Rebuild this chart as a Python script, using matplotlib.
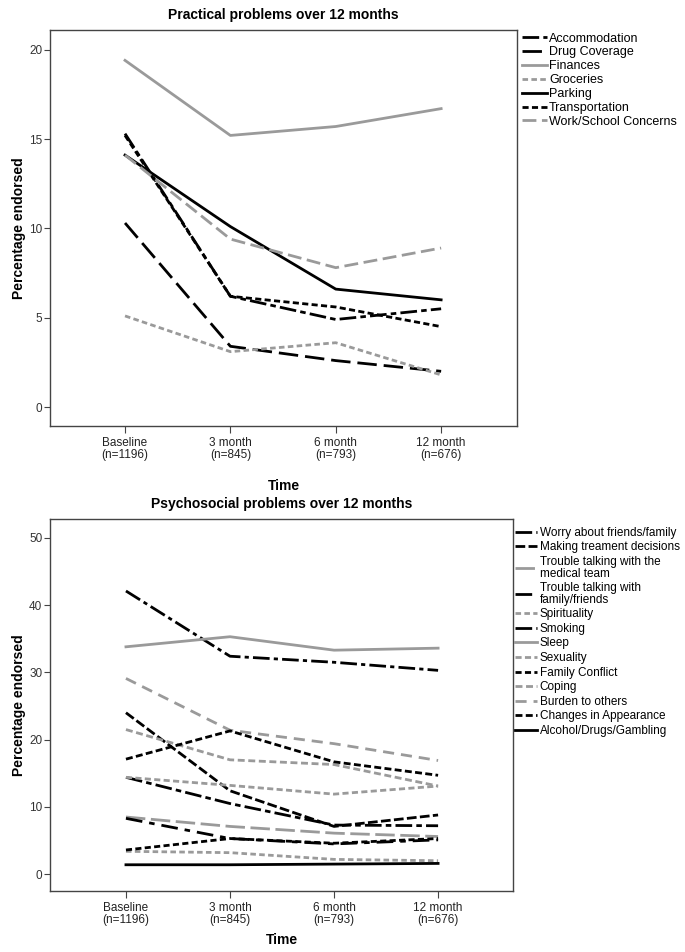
import numpy as np
import matplotlib
matplotlib.use('Agg')
import matplotlib.pyplot as plt

plt.rcParams['font.family'] = ['Liberation Sans', 'DejaVu Sans']

# time points
times = ['Baseline\n(n=1196)', '3 month\n(n=845)', '6 month\n(n=793)', '12 month\n(n=676)']

# Practical problems (percentage endorsed)
accommodation = [15.3, 6.2, 4.9, 5.5]
drug_coverage = [10.3, 3.4, 2.6, 2.0]
finances = [19.4, 15.2, 15.7, 16.7]
groceries = [5.1, 3.1, 3.6, 1.8]
parking = [14.1, 10.1, 6.6, 6.0]
transportation = [15.2, 6.2, 5.6, 4.5]
work_school = [14.1, 9.4, 7.8, 8.9]

# Psychosocial problems (percentage endorsed)
worry = [14.4, 10.5, 7.3, 7.2]
decisions = [24.0, 12.4, 7.1, 8.8]
talk_medical = [8.5, 7.1, 6.1, 5.6]
talk_family = [8.3, 5.3, 4.5, 5.1]
spirituality = [3.4, 3.2, 2.2, 2.0]
smoking = [42.1, 32.4, 31.5, 30.3]
sleep = [33.8, 35.3, 33.3, 33.6]
sexuality = [14.4, 13.2, 11.9, 13.1]
family_conflict = [3.6, 5.3, 4.6, 5.3]
coping = [21.5, 17.0, 16.3, 13.1]
burden = [29.1, 21.4, 19.4, 16.9]
appearance = [17.1, 21.3, 16.7, 14.7]
alcohol = [1.4, 1.4, 1.5, 1.6]

BLK = 'black'
GRY = '#9a9a9a'
LW = 2.0

practical = [
    ('Accommodation', accommodation, BLK, (0, (6, 1.5, 2, 1.5))),
    ('Drug Coverage', drug_coverage, BLK, (0, (7, 2.5))),
    ('Finances', finances, GRY, '-'),
    ('Groceries', groceries, GRY, (0, (2, 1.2))),
    ('Parking', parking, BLK, '-'),
    ('Transportation', transportation, BLK, (0, (2.2, 1.2))),
    ('Work/School Concerns', work_school, GRY, (0, (5, 2))),
]

psychosocial = [
    ('Worry about friends/family', worry, BLK, (0, (6, 1.5, 2, 1.5))),
    ('Making treament decisions', decisions, BLK, (0, (3.5, 1.2))),
    ('Trouble talking with the\nmedical team', talk_medical, GRY, (0, (7, 2))),
    ('Trouble talking with\nfamily/friends', talk_family, BLK, (0, (6, 2.5, 2, 2.5))),
    ('Spirituality', spirituality, GRY, (0, (2, 1.2))),
    ('Smoking', smoking, BLK, (0, (6, 1.5, 1.5, 1.5))),
    ('Sleep', sleep, GRY, '-'),
    ('Sexuality', sexuality, GRY, (0, (2.2, 1.2))),
    ('Family Conflict', family_conflict, BLK, (0, (2.2, 1.2))),
    ('Coping', coping, GRY, (0, (2.5, 1.3))),
    ('Burden to others', burden, GRY, (0, (4, 2.5))),
    ('Changes in Appearance', appearance, BLK, (0, (2.5, 1.2))),
    ('Alcohol/Drugs/Gambling', alcohol, BLK, '-'),
]

W, H = 685, 952
fig = plt.figure(figsize=(W / 100, H / 100), dpi=100)
ax1 = fig.add_axes([50 / W, 1 - 426 / H, 467 / W, 396 / H])
ax2 = fig.add_axes([50 / W, 1 - 891 / H, 463 / W, 372 / H])

x = np.arange(len(times))


def style_axes(ax, title, yticks, ylim, xlim, xlabelpad):
    ax.set_xlim(*xlim)
    ax.set_ylim(*ylim)
    ax.set_xticks(x)
    ax.set_xticklabels(times, fontsize=8.5, color='#222222', linespacing=1.0)
    ax.set_yticks(yticks)
    ax.tick_params(axis='y', labelsize=8.5, labelcolor='#333333', length=4,
                   color='#444444', pad=1.5)
    ax.tick_params(axis='x', length=5, color='#444444', pad=3)
    for s in ax.spines.values():
        s.set_color('#444444')
        s.set_linewidth(1.0)
    ax.set_title(title, fontsize=10, fontweight='bold', pad=8)
    ax.set_ylabel('Percentage endorsed', fontsize=10, fontweight='bold')
    ax.yaxis.set_label_coords(-24 / (ax.get_position().width * W), 0.5)
    ax.set_xlabel('Time', fontsize=10, fontweight='bold', labelpad=xlabelpad)


for name, vals, col, ls in practical:
    ax1.plot(x, vals, color=col, linestyle=ls, linewidth=LW, label=name)
style_axes(ax1, 'Practical problems over 12 months', [0, 5, 10, 15, 20],
           (-1.06, 21.1), (-0.712, 3.72), 13)
leg1 = ax1.legend(loc='upper left', bbox_to_anchor=(519.5 / W, 1 - 30 / H),
                  bbox_transform=fig.transFigure, frameon=False, fontsize=9,
                  handlelength=2.0, handletextpad=0.15, labelspacing=0.15,
                  borderaxespad=0, borderpad=0.2)

for name, vals, col, ls in psychosocial:
    ax2.plot(x, vals, color=col, linestyle=ls, linewidth=LW, label=name)
style_axes(ax2, 'Psychosocial problems over 12 months', [0, 10, 20, 30, 40, 50],
           (-2.5, 52.8), (-0.73, 3.72), 5)
leg2 = ax2.legend(loc='upper left', bbox_to_anchor=(512.6 / W, 1 - 524.4 / H),
                  bbox_transform=fig.transFigure, frameon=False, fontsize=8.5,
                  handlelength=1.86, handletextpad=0.25, labelspacing=0.22,
                  borderaxespad=0, borderpad=0.2)
for t in leg2.get_texts():
    t.set_linespacing(0.95)

fig.savefig('out.png', dpi=100)
